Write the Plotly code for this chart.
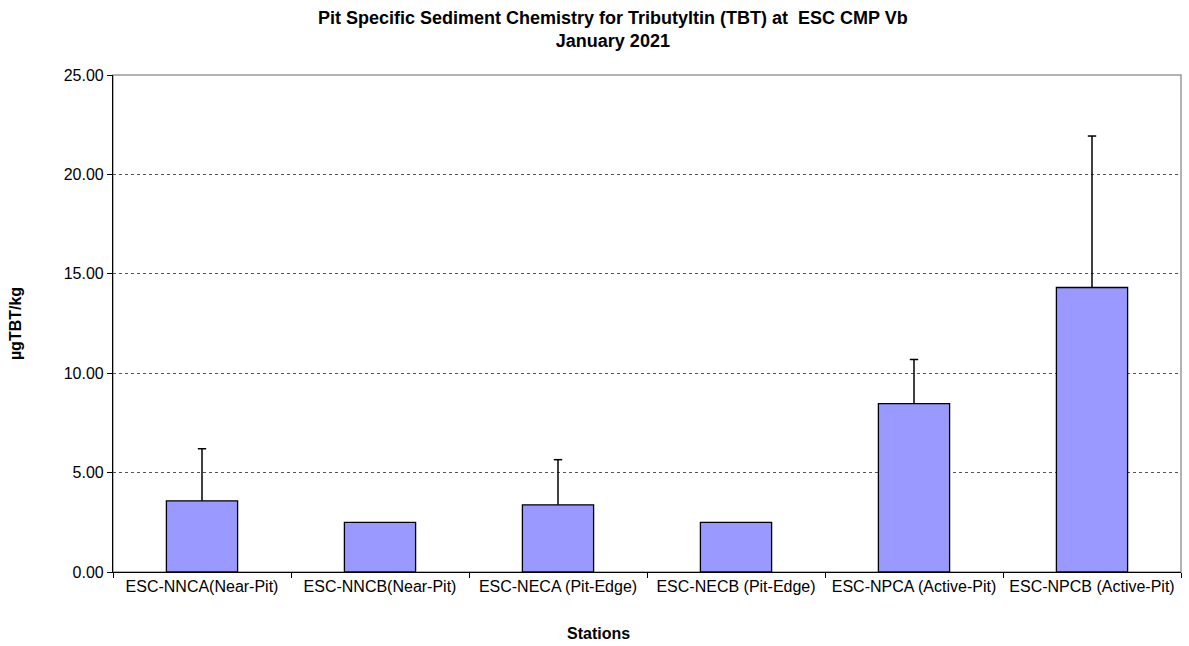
import plotly.graph_objects as go

stations = ["ESC-NNCA(Near-Pit)", "ESC-NNCB(Near-Pit)", "ESC-NECA (Pit-Edge)",
            "ESC-NECB (Pit-Edge)", "ESC-NPCA (Active-Pit)", "ESC-NPCB (Active-Pit)"]
tbt_mean = [3.58, 2.50, 3.38, 2.50, 8.47, 14.31]
tbt_err = [2.62, None, 2.27, None, 2.22, 7.62]
y_ticks = [0, 5, 10, 15, 20, 25]
y_labels = ["0.00", "5.00", "10.00", "15.00", "20.00", "25.00"]

font = "Liberation Sans, Arial, sans-serif"

fig = go.Figure()
fig.add_trace(go.Bar(
    x=stations, y=tbt_mean, width=0.4,
    marker=dict(color="#9999FF", line=dict(color="black", width=1.3)),
    error_y=dict(type="data", array=tbt_err, symmetric=False,
                 color="black", thickness=1.5, width=0, visible=True),
    hoverinfo="x+y",
))
# error-bar caps at the top of each whisker
cap_x = [s for s, e in zip(stations, tbt_err) if e is not None]
cap_y = [m + e for m, e in zip(tbt_mean, tbt_err) if e is not None]
fig.add_trace(go.Scatter(
    x=cap_x, y=cap_y, mode="markers",
    marker=dict(symbol="line-ew", size=6, line=dict(color="black", width=1.5)),
    hoverinfo="skip",
))

fig.add_shape(type="rect", xref="paper", yref="paper", x0=0, x1=1, y0=0, y1=1,
              line=dict(color="#999999", width=1.5), layer="below")

plot_h = 646 - 75 - 74
plot_w = 1189 - 113 - 8
fig.add_annotation(
    text="<b>Pit Specific Sediment Chemistry for Tributyltin (TBT) at  ESC CMP Vb<br>January 2021</b>",
    xref="paper", yref="paper", x=(613 - 113) / plot_w, xanchor="center",
    y=(646 - 74 - 29.5) / plot_h, yanchor="middle", showarrow=False,
    font=dict(family=font, size=18, color="black"),
)
fig.add_annotation(
    text="<b>Stations</b>",
    xref="paper", yref="paper", x=(598 - 113) / plot_w, xanchor="center",
    y=(646 - 74 - 633) / plot_h, yanchor="middle", showarrow=False,
    font=dict(family=font, size=16, color="black"),
)

fig.update_layout(
    width=1189, height=646,
    margin=dict(l=113, r=8, t=75, b=74),
    paper_bgcolor="white", plot_bgcolor="white",
    showlegend=False,
    font=dict(family=font, color="black", size=16),
    xaxis=dict(
        type="category", tickson="boundaries", ticks="outside", ticklen=5,
        tickcolor="black", showline=True, linecolor="black", linewidth=1.2,
        showgrid=False, tickfont=dict(size=16),
    ),
    yaxis=dict(
        range=[0, 25], tickvals=y_ticks, ticktext=y_labels, ticks="outside",
        ticklen=5, tickcolor="black", showline=True, linecolor="black",
        linewidth=1.2, showgrid=True, gridcolor="#555555", griddash="dot",
        gridwidth=0.8, zeroline=False, tickfont=dict(size=16),
        title=dict(text="<b>µgTBT/kg</b>", font=dict(size=16), standoff=38),
    ),
)

fig.write_html("out.html", config={"displayModeBar": False},
               post_script="document.body.style.margin='0';document.body.style.padding='0';")
